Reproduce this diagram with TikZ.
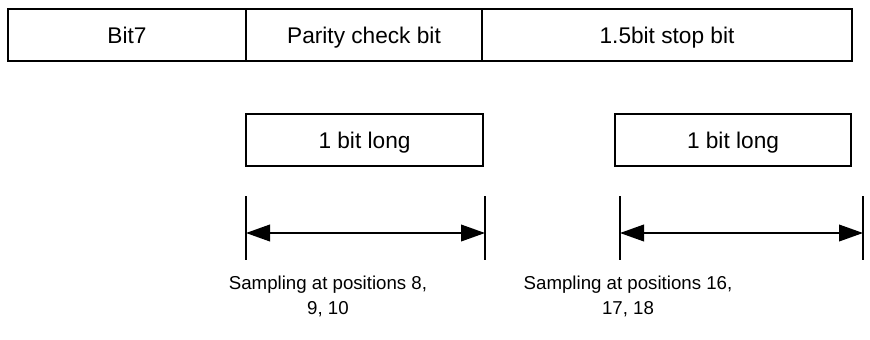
\documentclass[tikz,border=0pt]{standalone}
\usepackage{fontspec}
\setmainfont{Liberation Sans}
\usetikzlibrary{arrows.meta,positioning}

\begin{document}
\begin{tikzpicture}[
  x=0.75pt, y=-0.75pt,
  field/.style={draw, line width=1.1pt, inner sep=0pt, outer sep=0pt,
                minimum height=39pt, text height=12.5pt, text depth=0pt,
                align=center, font=\fontsize{17}{20}\selectfont},
  tick/.style={line width=1.3pt},
  span/.style={{Triangle[length=18pt, width=12.5pt]}-{Triangle[length=18pt, width=12.5pt]}, line width=1.3pt},
  caption/.style={align=center, inner sep=0pt, font=\fontsize{14}{18.75}\selectfont},
]
  \useasboundingbox[fill=white] (0,0) rectangle (870,339);

  % Frame bits --------------------------------------------------------------
  \node[field, minimum width=178.5pt, anchor=west] (bitseven) at (8,35) {Bit7};
  \node[field, minimum width=177pt, right=0pt of bitseven] (parity) {Parity check bit};
  \node[field, minimum width=277.5pt, right=0pt of parity] (stopbit) {1.5bit stop bit};

  % Parity bit sampling -----------------------------------------------------
  \node[field, minimum width=177.75pt] (parlong) at (364.5,140) {1 bit long};
  \coordinate (partopl) at (246,196);
  \coordinate (parbotl) at (246,260);
  \coordinate (partopr) at (485,196);
  \coordinate (parbotr) at (485,260);
  \coordinate (parleft) at (246,233);
  \coordinate (parright) at (485,233);
  \draw[tick] (partopl) -- (parbotl);
  \draw[tick] (partopr) -- (parbotr);
  \draw[span] (parleft) -- (parright);
  \node[caption] (parsample) at (328,296) {Sampling at positions 8,\\9, 10};

  % Stop bit sampling -------------------------------------------------------
  \node[field, minimum width=177pt] (stoplong) at (733,140) {1 bit long};
  \coordinate (stoptopl) at (620,196);
  \coordinate (stopbotl) at (620,260);
  \coordinate (stoptopr) at (863,196);
  \coordinate (stopbotr) at (863,260);
  \coordinate (stopleft) at (620,233);
  \coordinate (stopright) at (863,233);
  \draw[tick] (stoptopl) -- (stopbotl);
  \draw[tick] (stoptopr) -- (stopbotr);
  \draw[span] (stopleft) -- (stopright);
  \node[caption] (stopsample) at (628,296) {Sampling at positions 16,\\17, 18};
\end{tikzpicture}
\end{document}
